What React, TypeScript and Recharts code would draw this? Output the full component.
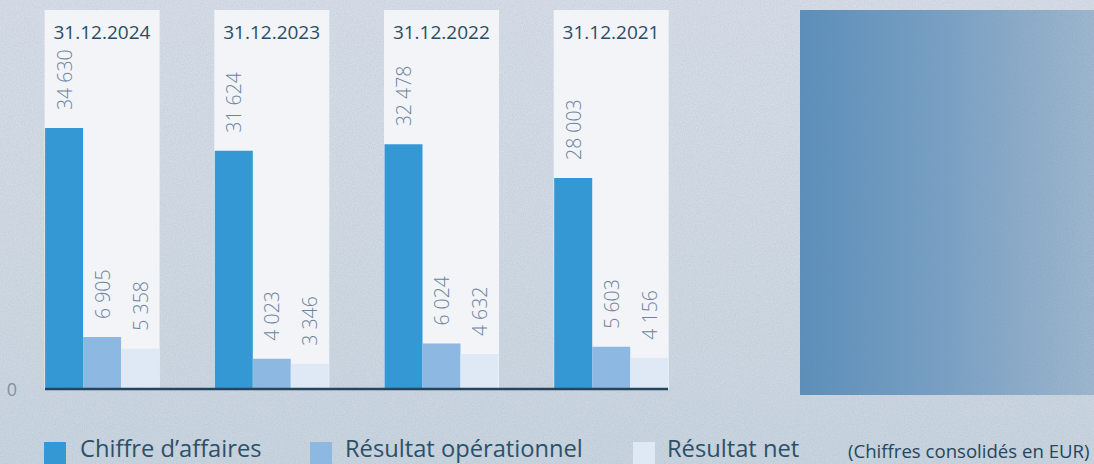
import { Bar, BarChart, LabelList, XAxis, YAxis } from "recharts";

// closing dates, newest first (as in the report)
const dates = ["31.12.2024", "31.12.2023", "31.12.2022", "31.12.2021"];

// figures in EUR
const chiffreAffaires = [34630, 31624, 32478, 28003];
const resultatOperationnel = [6905, 4023, 6024, 5603];
const resultatNet = [5358, 3346, 4632, 4156];

const seriesNames = ["Chiffre d’affaires", "Résultat opérationnel", "Résultat net"];
const seriesColors = ["#3398d4", "#8cb8e2", "#dfe9f6"];

const yTicks = [0];
const yMax = 50300;
const note = "(Chiffres consolidés en EUR)";

const data = dates.map((date, i) => ({
    date,
    ca: chiffreAffaires[i],
    op: resultatOperationnel[i],
    net: resultatNet[i],
}));

const FONT = "'Open Sans', sans-serif";
const PLOT_TOP = 10;
const AXIS_PAD = -27.9;
const LEGEND_X = [44, 310, 633];
const LEGEND_TEXT_X = [80, 345, 667];

/**
 * Formats a number with a space as thousands separator
 */
function fmt(v: number): string {
    return String(v).replace(/\B(?=(\d{3})+(?!\d))/g, " ");
}

function ValueLabel(props: any) {
    const { x, y, width, value } = props;
    const cx = Number(x) + Number(width) / 2;
    const cy = Number(y) - 18;
    return <text transform={`translate(${cx},${cy}) rotate(-90)`} textAnchor="start"
        dominantBaseline="central" fontFamily={FONT} fontSize={19.5} fontWeight={300}
        fill="#6d839c">{fmt(value)}</text>;
}

// panel behind each group; slightly widened so neighbouring bars leave no seam
function Panel(props: any) {
    const { x, y, width, height } = props;
    return <rect x={x - 0.5} y={y} width={width + 1} height={height} fill="#f2f4f8" />;
}

function DateTick(props: any) {
    const { x, payload } = props;
    return <text x={x} y={PLOT_TOP + 29} textAnchor="middle" fontFamily={FONT}
        fontSize={19} fontWeight={500} fill="#2a4c65">{payload.value}</text>;
}

function ZeroTick(props: any) {
    const { y, payload } = props;
    return <text x={12} y={y} dy={6.5} textAnchor="middle" fontFamily={FONT}
        fontSize={18} fontWeight={400} fill="#7d91a6">{payload.value}</text>;
}

// paper-like grain for the backdrop and the photo panel
function Grain(props: { id: string, opacity: number, style: React.CSSProperties }) {
    return <svg style={{ position: "absolute", ...props.style }} width={props.style.width as number}
        height={props.style.height as number}>
        <filter id={props.id}>
            <feTurbulence type="fractalNoise" baseFrequency="0.9" numOctaves={3} seed={4} />
            <feColorMatrix type="matrix"
                values="0 0 0 0 0.2  0 0 0 0 0.3  0 0 0 0 0.45  0 0 0 -1.6 1.1" />
        </filter>
        <rect width="100%" height="100%" filter={`url(#${props.id})`} opacity={props.opacity} />
    </svg>;
}

export default function App() {
    return <div style={{
        position: "absolute", left: 0, top: 0, width: 1094, height: 464, overflow: "hidden",
        background: "linear-gradient(180deg, #d6dde6 0%, #d0d9e2 60%, #c9d4de 100%)",
    }}>
        <Grain id="g1" opacity={0.18} style={{ left: 0, top: 0, width: 1094, height: 464 }} />
        <div style={{
            position: "absolute", left: 800, top: 10, width: 294, height: 385,
            background: "linear-gradient(90deg, #598eba 0%, #79a1c4 50%, #9fb8cf 100%)",
        }} />
        <Grain id="g2" opacity={0.3} style={{ left: 800, top: 10, width: 294, height: 385 }} />
        <div style={{ position: "absolute", left: 0, top: 0 }}>
            <BarChart width={790} height={400} data={data} barGap={0}
                margin={{ top: PLOT_TOP - 1, right: 122, bottom: 10, left: 0 }}>
                <YAxis domain={[0, yMax]} ticks={yTicks} width={45} axisLine={false}
                    tickLine={false} tick={<ZeroTick />} />
                <Bar dataKey="ca" name={seriesNames[0]} fill={seriesColors[0]} barSize={38}
                    background={Panel} isAnimationActive={false}>
                    <LabelList dataKey="ca" content={<ValueLabel />} />
                </Bar>
                <Bar dataKey="op" name={seriesNames[1]} fill={seriesColors[1]} barSize={38}
                    background={Panel} isAnimationActive={false}>
                    <LabelList dataKey="op" content={<ValueLabel />} />
                </Bar>
                <Bar dataKey="net" name={seriesNames[2]} fill={seriesColors[2]} barSize={38}
                    background={Panel} isAnimationActive={false}>
                    <LabelList dataKey="net" content={<ValueLabel />} />
                </Bar>
                <XAxis dataKey="date" height={1} tick={false} tickLine={false}
                    padding={{ left: AXIS_PAD, right: AXIS_PAD }}
                    axisLine={{ stroke: "#25455d", strokeWidth: 2.5 }} />
                <XAxis xAxisId="top" dataKey="date" orientation="top" height={1} interval={0}
                    padding={{ left: AXIS_PAD, right: AXIS_PAD }} axisLine={false}
                    tickLine={false} tick={<DateTick />} />
            </BarChart>
        </div>
        {seriesNames.map((name, i) => <div key={name}>
            <div style={{
                position: "absolute", left: LEGEND_X[i], top: 442, width: 22, height: 22,
                background: seriesColors[i],
            }} />
            <div style={{
                position: "absolute", left: LEGEND_TEXT_X[i], top: 434.6, fontFamily: FONT,
                fontSize: 23.7, lineHeight: 1.1, color: "#2d5069", whiteSpace: "nowrap",
            }}>{name}</div>
        </div>)}
        <div style={{
            position: "absolute", left: 848, top: 441, fontFamily: FONT, fontSize: 18.6,
            lineHeight: 1.1, color: "#26465e", whiteSpace: "nowrap",
        }}>{note}</div>
    </div>;
}
